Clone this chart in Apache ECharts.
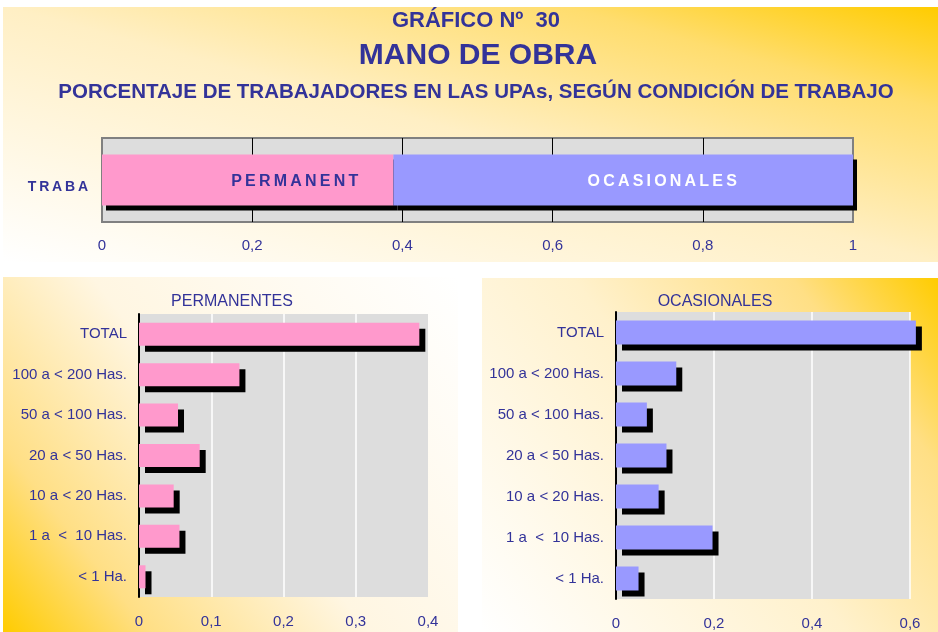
<!DOCTYPE html>
<html>
<head>
<meta charset="utf-8">
<title>Mano de obra</title>
<script src="https://cdn.jsdelivr.net/npm/echarts@6/dist/echarts.min.js"></script>
<style>
  html, body { margin: 0; padding: 0; background: #fff; }
  #chart { width: 938px; height: 632px; }
</style>
</head>
<body>
<div id="chart"></div>
<script>
// estratos de superficie, de arriba hacia abajo
const estratos = ['TOTAL', '100 a < 200 Has.', '50 a < 100 Has.', '20 a < 50 Has.', '10 a < 20 Has.', '1 a  <  10 Has.', '< 1 Ha.'];
// proporción de trabajadores por condición
const permanentes = [0.388, 0.139, 0.054, 0.084, 0.048, 0.056, 0.009];
const ocasionales = [0.612, 0.123, 0.063, 0.103, 0.087, 0.197, 0.046];
// barra superior (total)
const categoriaTotal = ['TRABA'];
const etiquetasBarra = ['PERMANENT', 'OCASIONALES'];

const AZUL = '#333399';
const ROSA = '#FF99CC';
const LILA = '#9999FF';
const FUENTE = '"Liberation Sans", Arial, sans-serif';

// espaciado entre letras (como en el original)
const espaciar = (s) => s.split('').join('\u2009');
const coma = (v) => String(v).replace('.', ',');

// degradados de fondo
const fondoSuperior = new echarts.graphic.LinearGradient(405, 371, 535, -103, [
  { offset: 0, color: '#FFFFFF' },
  { offset: 0.5, color: '#FFEFC4' },
  { offset: 0.8, color: '#FFDD6E' },
  { offset: 1, color: '#FFCC00' }
], true);
const fondoIzq = new echarts.graphic.LinearGradient(1, 0, 0, 1, [
  { offset: 0, color: '#FFFFFF' },
  { offset: 0.5, color: '#FFF6E2' },
  { offset: 0.8, color: '#FFDF85' },
  { offset: 1, color: '#FFCC00' }
]);
const fondoDer = new echarts.graphic.LinearGradient(0, 1, 1, 0, [
  { offset: 0, color: '#FFFFFF' },
  { offset: 0.5, color: '#FFF1CC' },
  { offset: 0.8, color: '#FFDF85' },
  { offset: 1, color: '#FFCC00' }
]);

const sombra = (dx, dy) => ({ shadowColor: '#000', shadowBlur: 0, shadowOffsetX: dx, shadowOffsetY: dy });

const texto = (x, y, txt, size, weight) => ({
  type: 'text', x: x, y: y, z: 100,
  style: {
    text: txt, fill: AZUL, fontSize: size, fontWeight: weight, fontFamily: FUENTE,
    textAlign: 'center', textVerticalAlign: 'middle'
  }
});

const option = {
  animation: false,
  backgroundColor: '#FFFFFF',
  graphic: [
    { type: 'rect', z: -10, shape: { x: 3, y: 7, width: 935, height: 255 }, style: { fill: fondoSuperior } },
    { type: 'rect', z: -10, shape: { x: 3, y: 277, width: 455, height: 355 }, style: { fill: fondoIzq } },
    { type: 'rect', z: -10, shape: { x: 482, y: 278, width: 456, height: 354 }, style: { fill: fondoDer } },
    texto(476, 21, 'GRÁFICO Nº  30', 22, 'bold'),
    texto(478, 56, 'MANO DE OBRA', 30, 'bold'),
    texto(476, 92, 'PORCENTAJE DE TRABAJADORES EN LAS UPAs, SEGÚN CONDICIÓN DE TRABAJO', 20.5, 'bold'),
    texto(232, 302, 'PERMANENTES', 16, 'normal'),
    texto(715, 302, 'OCASIONALES', 16, 'normal')
  ],
  grid: [
    { left: 102, top: 138, width: 751, height: 84, show: true, backgroundColor: '#DDDDDD', borderColor: '#808080', borderWidth: 2 },
    { left: 139, top: 314, width: 289, height: 283, show: true, backgroundColor: '#DDDDDD', borderWidth: 0 },
    { left: 616, top: 312, width: 294, height: 287, show: true, backgroundColor: '#DDDDDD', borderWidth: 0 }
  ],
  xAxis: [
    {
      gridIndex: 0, type: 'value', min: 0, max: 1, interval: 0.2,
      axisLine: { show: false }, axisTick: { show: false },
      axisLabel: { color: AZUL, fontSize: 15, fontFamily: FUENTE, margin: 16, formatter: coma },
      splitLine: { lineStyle: { color: ['transparent', '#000', '#000', '#000', '#000', 'transparent'], width: 1 } }
    },
    {
      gridIndex: 1, type: 'value', min: 0, max: 0.4, interval: 0.1,
      axisLine: { show: false }, axisTick: { show: false },
      axisLabel: { color: AZUL, fontSize: 15, fontFamily: FUENTE, margin: 17, formatter: coma },
      splitLine: { lineStyle: { color: ['transparent', '#FFF', '#FFF', '#FFF', 'transparent'], width: 1.5 } }
    },
    {
      gridIndex: 2, type: 'value', min: 0, max: 0.6, interval: 0.2,
      axisLine: { show: false }, axisTick: { show: false },
      axisLabel: { color: AZUL, fontSize: 15, fontFamily: FUENTE, margin: 17, formatter: coma },
      splitLine: { lineStyle: { color: ['transparent', '#FFF', '#FFF', '#FFF'], width: 1.5 } }
    }
  ],
  yAxis: [
    {
      gridIndex: 0, type: 'category', data: categoriaTotal,
      axisLine: { show: false }, axisTick: { show: false },
      axisLabel: {
        color: AZUL, fontSize: 14, fontWeight: 'bold', fontFamily: FUENTE, margin: 14,
        verticalAlign: 'top', formatter: espaciar
      }
    },
    {
      gridIndex: 1, type: 'category', data: estratos, inverse: true,
      axisLine: { lineStyle: { color: '#000', width: 2 } },
      axisTick: { length: 5, lineStyle: { color: '#000', width: 2 } },
      axisLabel: { color: AZUL, fontSize: 15, fontFamily: FUENTE, margin: 12 }
    },
    {
      gridIndex: 2, type: 'category', data: estratos, inverse: true,
      axisLine: { lineStyle: { color: '#000', width: 2 } },
      axisTick: { length: 5, lineStyle: { color: '#000', width: 2 } },
      axisLabel: { color: AZUL, fontSize: 15, fontFamily: FUENTE, margin: 12 }
    }
  ],
  series: [
    {
      name: 'PERMANENTES', type: 'bar', stack: 'total', xAxisIndex: 0, yAxisIndex: 0,
      data: [permanentes[0]], barWidth: 51,
      itemStyle: Object.assign({ color: ROSA }, sombra(4, 5)),
      label: {
        show: true, position: 'inside', offset: [47, 2], color: AZUL,
        fontSize: 16, fontWeight: 'bold', fontFamily: FUENTE,
        formatter: () => espaciar(etiquetasBarra[0])
      }
    },
    {
      name: 'OCASIONALES', type: 'bar', stack: 'total', xAxisIndex: 0, yAxisIndex: 0,
      data: [ocasionales[0]], barWidth: 51,
      itemStyle: Object.assign({ color: LILA }, sombra(4, 5)),
      label: {
        show: true, position: 'inside', offset: [39, 2], color: '#FFFFFF',
        fontSize: 16, fontWeight: 'bold', fontFamily: FUENTE,
        formatter: () => espaciar(etiquetasBarra[1])
      }
    },
    {
      name: 'PERMANENTES', type: 'bar', xAxisIndex: 1, yAxisIndex: 1,
      data: permanentes, barWidth: 23,
      itemStyle: Object.assign({ color: ROSA }, sombra(6, 6))
    },
    {
      name: 'OCASIONALES', type: 'bar', xAxisIndex: 2, yAxisIndex: 2,
      data: ocasionales, barWidth: 24, clip: false,
      itemStyle: Object.assign({ color: LILA }, sombra(6, 6))
    }
  ]
};

const chart = echarts.init(document.getElementById('chart'));
chart.setOption(option);
window.addEventListener('resize', () => chart.resize());
</script>
</body>
</html>
